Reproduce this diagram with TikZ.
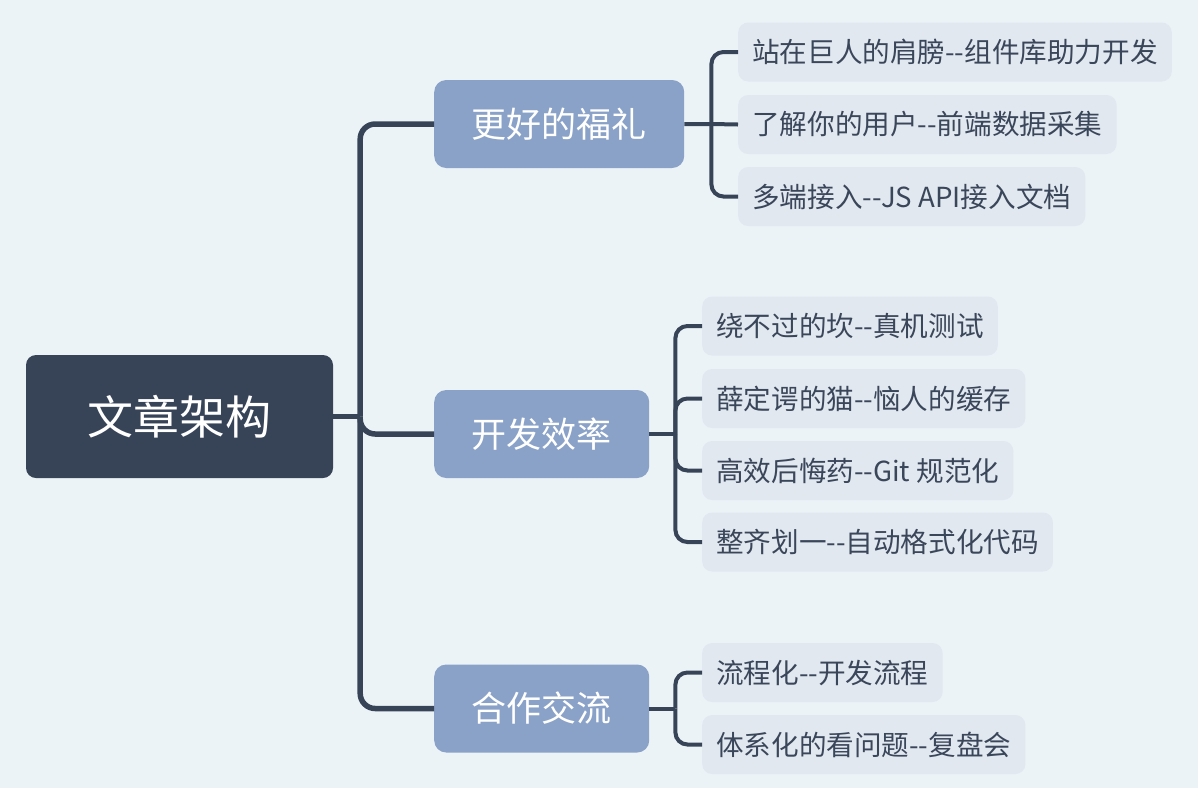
\documentclass[tikz,border=0pt]{standalone}
\usepackage{fontspec}
\setmainfont{Noto Sans CJK SC}

\definecolor{bgcol}{HTML}{ECF3F7}
\definecolor{rootcol}{HTML}{374458}
\definecolor{branchcol}{HTML}{8AA2C7}
\definecolor{leafcol}{HTML}{E1E8F0}
\definecolor{inkcol}{HTML}{3A4659}

\begin{document}
\begin{tikzpicture}[x=1pt,y=-1pt,
	rootbox/.style={fill=rootcol, text=white, rounded corners=10pt,
		minimum width=307pt, minimum height=123pt, font=\fontsize{46}{52}\selectfont},
	branchbox/.style={fill=branchcol, text=white, rounded corners=12pt, anchor=west,
		minimum height=88pt, inner xsep=37.5pt, font=\fontsize{35}{40}\selectfont},
	leafbox/.style={fill=leafcol, text=inkcol, rounded corners=10pt, anchor=west,
		minimum height=59pt, inner xsep=14pt, font=\fontsize{27.6}{32}\selectfont},
	trunk/.style={draw=rootcol, line width=5.5pt, rounded corners=15pt},
	twig/.style={draw=rootcol, line width=4pt, rounded corners=12pt}]
\useasboundingbox[fill=bgcol] (0,0) rectangle (1198,788);

\node[rootbox] (root) at (179.5,416.5) {文章架构};

\node[branchbox] (fuli) at (434,124) {更好的福礼};
\node[branchbox] (xiaolv) at (434,434) {开发效率};
\node[branchbox] (jiaoliu) at (434,708.5) {合作交流};

\node[leafbox] (zujian) at (738,52) {站在巨人的肩膀-{}-组件库助力开发};
\node[leafbox] (caiji) at (738,124.5) {了解你的用户-{}-前端数据采集};
\node[leafbox] (jsapi) at (738,196.5) {多端接入-{}-JS API接入文档};

\node[leafbox] (zhenji) at (702,326) {绕不过的坎-{}-真机测试};
\node[leafbox] (huancun) at (702,398.5) {薛定谔的猫-{}-恼人的缓存};
\node[leafbox] (git) at (702,470.5) {高效后悔药-{}-Git 规范化};
\node[leafbox] (geshi) at (702,542) {整齐划一-{}-自动格式化代码};

\node[leafbox] (liucheng) at (702,672.5) {流程化-{}-开发流程};
\node[leafbox] (fupan) at (702,744.5) {体系化的看问题-{}-复盘会};

% trunk from the root
\coordinate (hub) at ([xshift=27pt]root.east);
\draw[trunk] (root.east) -- (hub);
\foreach \b in {fuli,xiaolv,jiaoliu}
	\draw[trunk] (hub) |- (\b.west);

% twigs to the leaves
\coordinate (hubA) at ([xshift=27pt]fuli.east);
\draw[twig] (fuli.east) -- (hubA) -- (caiji.west);
\foreach \l in {zujian,jsapi}
	\draw[twig] (hubA) |- (\l.west);

\coordinate (hubB) at ([xshift=26pt]xiaolv.east);
\draw[twig] (xiaolv.east) -- (hubB);
\foreach \l in {zhenji,huancun,git,geshi}
	\draw[twig] (hubB) |- (\l.west);

\coordinate (hubC) at ([xshift=26pt]jiaoliu.east);
\draw[twig] (jiaoliu.east) -- (hubC);
\foreach \l in {liucheng,fupan}
	\draw[twig] (hubC) |- (\l.west);
\end{tikzpicture}
\end{document}
